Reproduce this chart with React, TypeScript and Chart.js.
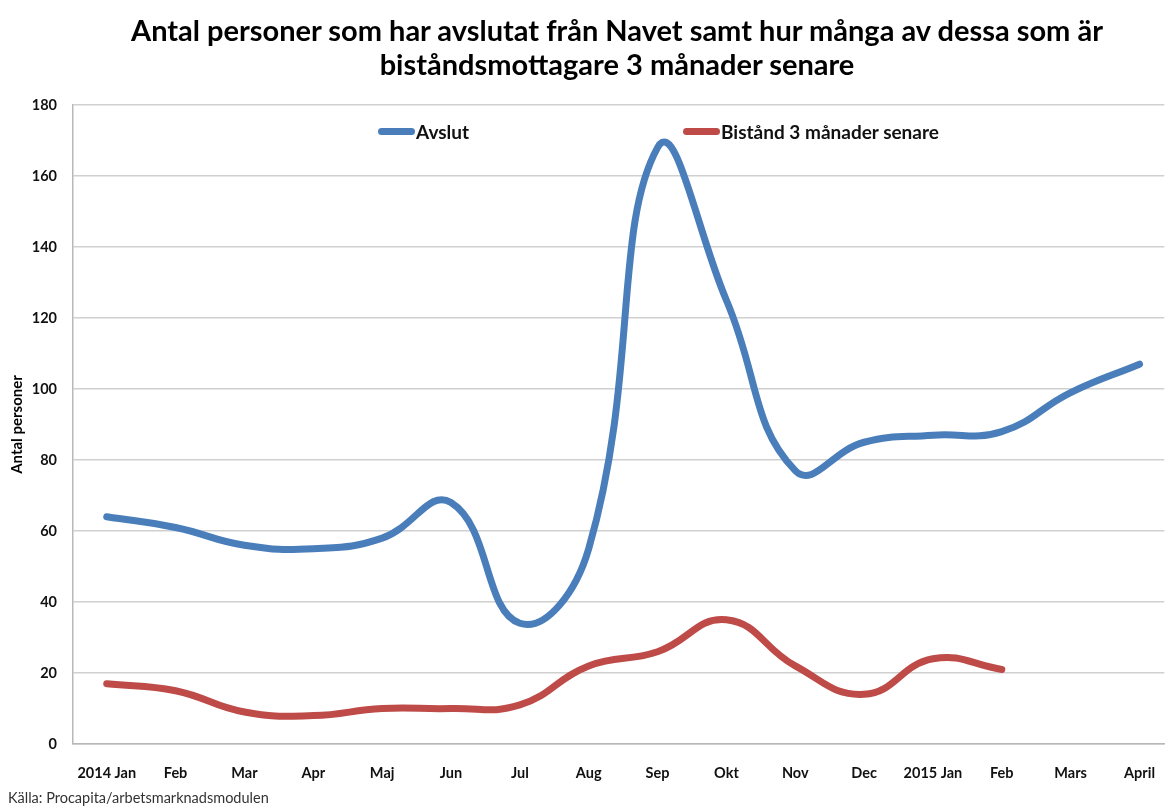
import React, { useEffect, useRef } from "react";
import { Chart, registerables } from "chart.js";

Chart.register(...registerables);

const months = ["2014 Jan", "Feb", "Mar", "Apr", "Maj", "Jun", "Jul", "Aug", "Sep", "Okt", "Nov", "Dec", "2015 Jan", "Feb", "Mars", "April"];
const avslut = [64, 61, 56, 55, 58, 68, 34, 55, 168, 125, 77, 85, 87, 88, 99, 107];
const bistand = [17, 15, 9, 8, 10, 10, 11, 22, 26, 35, 22, 14, 24, 21];
const yTicks = [0, 20, 40, 60, 80, 100, 120, 140, 160, 180];

const titleLines = [
  "Antal personer som har avslutat från Navet samt hur många av dessa som är",
  "biståndsmottagare 3 månader senare",
];
const seriesNames = ["Avslut", "Bistånd 3 månader senare"];
const seriesColors = ["#4A7EBB", "#BE4B48"];
const yTitle = "Antal personer";
const source = "Källa: Procapita/arbetsmarknadsmodulen";

const FONT = "Lato, 'Open Sans', 'DejaVu Sans', sans-serif";

export default function App() {
  const ref = useRef<HTMLCanvasElement | null>(null);

  useEffect(() => {
    if (!ref.current) return;
    const chart = new Chart(ref.current, {
      type: "line",
      data: {
        datasets: [
          {
            label: seriesNames[0],
            data: avslut.map((v, i) => ({ x: i, y: v })),
            borderColor: seriesColors[0],
            backgroundColor: seriesColors[0],
            borderWidth: 7,
            borderCapStyle: "round",
            borderJoinStyle: "round",
            pointRadius: 0,
            tension: 0.45,
            clip: false,
          },
          {
            label: seriesNames[1],
            data: bistand.map((v, i) => ({ x: i, y: v })),
            borderColor: seriesColors[1],
            backgroundColor: seriesColors[1],
            borderWidth: 7,
            borderCapStyle: "round",
            borderJoinStyle: "round",
            pointRadius: 0,
            tension: 0.45,
            clip: false,
          },
        ],
      },
      options: {
        responsive: false,
        animation: false,
        layout: { padding: { left: 0, right: 0, top: 105, bottom: 0 } },
        plugins: {
          legend: { display: false },
          tooltip: { enabled: false },
          title: { display: false },
        },
        scales: {
          x: {
            type: "linear",
            min: -0.49,
            max: 15.36,
            afterBuildTicks: (s: any) => {
              s.ticks = months.map((_, i) => ({ value: i }));
            },
            afterFit: (s: any) => {
              s.height = 62;
            },
            grid: { display: false },
            border: { display: true, color: "#b8b8b8", width: 1.5 },
            ticks: {
              autoSkip: false,
              maxRotation: 0,
              padding: 13,
              color: "#111",
              font: { family: FONT, size: 14.5, weight: "bold" },
              callback: (v: any) => months[v as number] ?? "",
            },
          },
          y: {
            min: 0,
            max: 180,
            afterBuildTicks: (s: any) => {
              s.ticks = yTicks.map((v) => ({ value: v }));
            },
            afterFit: (s: any) => {
              s.width = 73;
            },
            grid: { color: "#d0d0d0", lineWidth: 1.5, drawTicks: false },
            border: { display: true, color: "#b8b8b8", width: 1.5 },
            ticks: {
              padding: 16,
              color: "#111",
              font: { family: FONT, size: 14.5, weight: "bold" },
            },
            title: {
              display: true,
              text: yTitle,
              color: "#000",
              padding: { top: 8, bottom: 0 },
              font: { family: FONT, size: 15, weight: "bold", lineHeight: 1.2 },
            },
          },
        },
      },
    });
    return () => chart.destroy();
  }, []);

  const legendItem = (i: number, left: number) => (
    <div
      key={i}
      style={{
        position: "absolute",
        left,
        top: 120,
        height: 22,
        display: "flex",
        alignItems: "center",
        fontFamily: FONT,
        fontWeight: 700,
        fontSize: 19,
        color: "#111",
        whiteSpace: "nowrap",
      }}
    >
      <span
        style={{
          display: "inline-block",
          width: 37,
          height: 7,
          borderRadius: 4,
          background: seriesColors[i],
          marginRight: 1,
        }}
      />
      <span>{seriesNames[i]}</span>
    </div>
  );

  return (
    <div
      style={{
        position: "absolute",
        left: 0,
        top: 0,
        width: 1168,
        height: 806,
        overflow: "hidden",
        background: "#fff",
      }}
    >
      <canvas ref={ref} width={1168} height={806} style={{ display: "block" }} />
      <div
        style={{
          position: "absolute",
          left: 33,
          top: 13,
          width: 1168,
          textAlign: "center",
          fontFamily: FONT,
          fontWeight: 700,
          fontSize: 29,
          lineHeight: "34px",
          color: "#000",
        }}
      >
        {titleLines.map((t, i) => (
          <div key={i} style={{ whiteSpace: "nowrap" }}>{t}</div>
        ))}
      </div>
      {legendItem(0, 378)}
      {legendItem(1, 683)}
      <div
        style={{
          position: "absolute",
          left: 8,
          top: 789,
          fontFamily: FONT,
          fontSize: 14.5,
          lineHeight: "18px",
          color: "#333",
          whiteSpace: "nowrap",
        }}
      >
        {source}
      </div>
    </div>
  );
}
